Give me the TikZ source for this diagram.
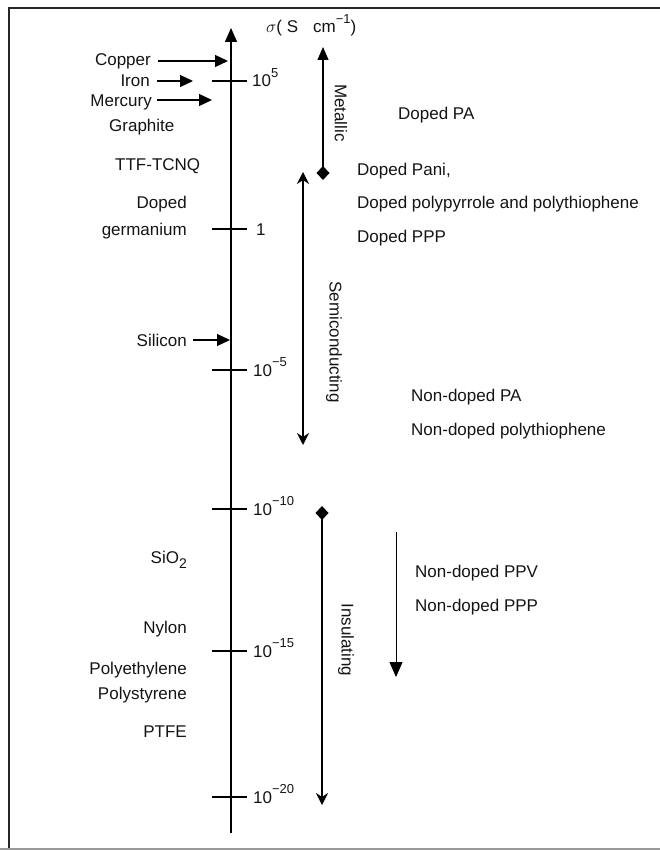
\documentclass[tikz,border=0pt]{standalone}
\usepackage{fontspec}
\setmainfont{Liberation Sans}
\usetikzlibrary{arrows.meta}
\newcommand\mysup[1]{\raisebox{0.55em}{\fontsize{13}{13}\selectfont #1}}
\begin{document}
\begin{tikzpicture}[x=1pt,y=-1pt,
  lab/.style={inner sep=0pt, font=\fontsize{17}{20}\selectfont, text=black!92},
  rot/.style={lab, rotate=-90, anchor=center},
  axisline/.style={line width=1.4pt, -{Triangle[length=14pt,width=12pt]}},
  tickline/.style={line width=1.3pt},
  ptr/.style={line width=1.3pt, -{Triangle[length=13pt,width=12pt]}},
  rangeline/.style={line width=1.3pt},
  frameline/.style={line width=2pt, black!85},
]
\useasboundingbox (0,0) rectangle (660,850);
% frame
\coordinate (ftl) at (9,8);
\coordinate (ftr) at (660,8);
\coordinate (fbl) at (9,850);
\coordinate (bl) at (0,849);
\coordinate (br) at (660,849);
\draw[frameline] (ftr) -- (ftl) -- (fbl);
\draw[line width=2pt, black!40] (bl) -- (br);

% main axis
\coordinate (axbot) at (231,833);
\coordinate (axtop) at (231,28);
\draw[axisline] (axbot) -- (axtop);
\node[lab, anchor=base west] (sig) at (266,33) {$\sigma$( S\hspace{15pt}cm\mysup{−1})};

% ticks
\foreach \nm/\yy/\txt/\xx in {t5/81/10\mysup{5}/252, t0/229/1/256, tm5/370/10\mysup{−5}/253, tm10/509/10\mysup{−10}/253, tm15/651/10\mysup{−15}/253, tm20/797/10\mysup{−20}/253}{
  \coordinate (\nm a) at (212,\yy);
  \coordinate (\nm b) at (247,\yy);
  \draw[tickline] (\nm a) -- (\nm b);
  \node[lab, anchor=base west] (\nm lab) at (\xx,\yy+6) {\txt};
}

% left labels
\node[lab, anchor=base east] (copper) at (151,66) {Copper};
\node[lab, anchor=base east] (iron) at (150,87) {Iron};
\node[lab, anchor=base east] (mercury) at (152,107) {Mercury};
\node[lab, anchor=base west] (graphite) at (109,132) {Graphite};
\node[lab, anchor=base west] (ttf) at (115,171) {TTF-TCNQ};
\node[lab, anchor=base east] (doped) at (187,208) {Doped};
\node[lab, anchor=base east] (germ) at (187,235) {germanium};
\node[lab, anchor=base east] (silicon) at (187,346) {Silicon};
\node[lab, anchor=base east] (sio) at (187,563) {SiO\raisebox{-0.3em}{\fontsize{14}{14}\selectfont 2}};
\node[lab, anchor=base east] (nylon) at (187,633) {Nylon};
\node[lab, anchor=base east] (pe) at (187,674) {Polyethylene};
\node[lab, anchor=base east] (ps) at (187,699) {Polystyrene};
\node[lab, anchor=base east] (ptfe) at (187,737) {PTFE};

% pointer arrows
\coordinate (cuend) at (228,61);
\coordinate (feend) at (193,81);
\coordinate (hgend) at (212,100);
\coordinate (siend) at (230,340);
\draw[ptr] ([xshift=7pt]copper.east |- cuend) -- (cuend);
\draw[ptr] ([xshift=7pt]iron.east |- feend) -- (feend);
\draw[ptr] ([xshift=5pt]mercury.east |- hgend) -- (hgend);
\draw[ptr] ([xshift=6pt]silicon.east |- siend) -- (siend);

% range arrows
\coordinate (metb) at (323,180);
\coordinate (mett) at (323,47);
\draw[rangeline, {Diamond[length=14pt,width=13pt]}-{Triangle[length=13pt,width=11pt]}] (metb) -- (mett);
\node[rot] (metallic) at (341,113) {Metallic};

\coordinate (semt) at (303,172);
\coordinate (semb) at (303,445);
\draw[rangeline, {Stealth[length=12pt,width=12pt,inset=4pt]}-{Stealth[length=12pt,width=12pt,inset=4pt]}] (semt) -- (semb);
\node[rot] (semi) at (334,342) {Semiconducting};

\coordinate (inst) at (322,506);
\coordinate (insb) at (322,805);
\draw[rangeline, {Diamond[length=14pt,width=13pt]}-{Stealth[length=12pt,width=12pt,inset=4pt]}] (inst) -- (insb);
\node[rot] (insul) at (346,640) {Insulating};

\coordinate (ppvt) at (396,532);
\coordinate (ppvb) at (396,677);
\draw[line width=0.9pt, -{Triangle[length=15pt,width=13pt]}] (ppvt) -- (ppvb);

% right labels
\node[lab, anchor=base west] (dpa) at (398,120) {Doped PA};
\node[lab, anchor=base west] (dpani) at (357,176) {Doped Pani,};
\node[lab, anchor=base west] (dppy) at (357,208) {Doped polypyrrole and polythiophene};
\node[lab, anchor=base west] (dppp) at (357,242) {Doped PPP};
\node[lab, anchor=base west] (ndpa) at (411,401) {Non-doped PA};
\node[lab, anchor=base west] (ndpt) at (411,435) {Non-doped polythiophene};
\node[lab, anchor=base west] (ndppv) at (415,577) {Non-doped PPV};
\node[lab, anchor=base west] (ndppp) at (415,611) {Non-doped PPP};
\end{tikzpicture}
\end{document}
